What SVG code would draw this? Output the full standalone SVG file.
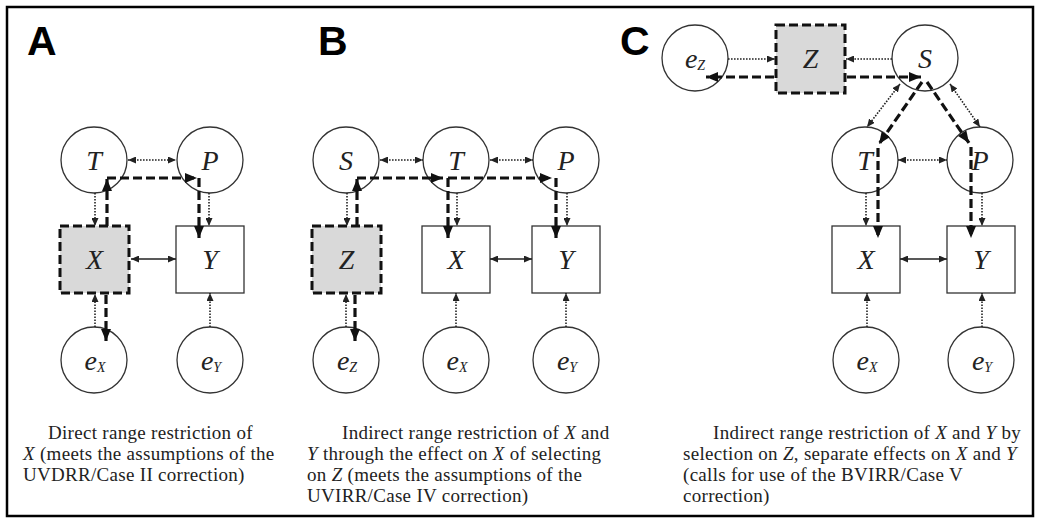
<svg xmlns="http://www.w3.org/2000/svg" width="1040" height="522" viewBox="0 0 1040 522">
  <defs>
    <style>
      .circ { fill: #fff; stroke: #333; stroke-width: 1.3; }
      .box { fill: #fff; stroke: #333; stroke-width: 1.3; }
      .sel { fill: #d9d9d9; stroke: #111; stroke-width: 3; stroke-dasharray: 9 4; }
      .dot { fill: none; stroke: #222; stroke-width: 1.6; stroke-dasharray: 1.6 1.4; }
      .sol { fill: none; stroke: #222; stroke-width: 1.5; }
      .thk { fill: none; stroke: #111; stroke-width: 3.2; stroke-dasharray: 9 4; }
      .lbl { font-family: "Liberation Serif", "Times New Roman", serif; font-style: italic; font-size: 28px; fill: #222; }
      .sub { font-size: 14px; }
      .cap { font-family: "Liberation Serif", "Times New Roman", serif; font-size: 19px; letter-spacing: 0.3px; fill: #222; }
      .it { font-style: italic; }
      .panel { font-family: "Liberation Sans", Arial, sans-serif; font-weight: bold; font-size: 41px; fill: #000; }
    </style>
    <marker id="ad" markerUnits="userSpaceOnUse" markerWidth="8" markerHeight="7" refX="8" refY="3.5" orient="auto-start-reverse">
      <path d="M0,0 L8,3.5 L0,7 z" fill="#222"/>
    </marker>
    <marker id="as" markerUnits="userSpaceOnUse" markerWidth="8" markerHeight="7" refX="8" refY="3.5" orient="auto-start-reverse">
      <path d="M0,0 L8,3.5 L0,7 z" fill="#222"/>
    </marker>
    <marker id="at" markerUnits="userSpaceOnUse" markerWidth="12" markerHeight="10" refX="12" refY="5" orient="auto">
      <path d="M0,0 L12,5 L0,10 z" fill="#111"/>
    </marker>
  </defs>

  <rect x="0" y="0" width="1040" height="522" fill="#fff"/>
  <rect x="7" y="7" width="1026" height="509" fill="none" stroke="#000" stroke-width="2.5"/>

  <!-- panel letters -->
  <text class="panel" x="27" y="55">A</text>
  <text class="panel" x="318" y="55">B</text>
  <text class="panel" x="620" y="55">C</text>

  <!-- ===== Panel A ===== -->
  <g id="a-T"><circle class="circ" cx="94" cy="160" r="33"/><text class="lbl" x="94" y="170" text-anchor="middle">T</text></g>
  <g id="a-P"><circle class="circ" cx="210" cy="160" r="33"/><text class="lbl" x="210" y="170" text-anchor="middle">P</text></g>
  <g id="a-X"><rect class="sel" x="60" y="226" width="69" height="67"/><text class="lbl" x="94.5" y="269" text-anchor="middle">X</text></g>
  <g id="a-Y"><rect class="box" x="176" y="226" width="68" height="67"/><text class="lbl" x="210" y="269" text-anchor="middle">Y</text></g>
  <g id="a-eX"><circle class="circ" cx="94" cy="360" r="33"/><text class="lbl" x="95" y="370" text-anchor="middle">e<tspan class="sub" dy="2">X</tspan></text></g>
  <g id="a-eY"><circle class="circ" cx="210" cy="360" r="33"/><text class="lbl" x="211" y="370" text-anchor="middle">e<tspan class="sub" dy="2">Y</tspan></text></g>

  <!-- ===== Panel B ===== -->
  <g id="b-S"><circle class="circ" cx="346" cy="160" r="33"/><text class="lbl" x="346" y="170" text-anchor="middle">S</text></g>
  <g id="b-T"><circle class="circ" cx="456" cy="160" r="33"/><text class="lbl" x="456" y="170" text-anchor="middle">T</text></g>
  <g id="b-P"><circle class="circ" cx="566" cy="160" r="33"/><text class="lbl" x="566" y="170" text-anchor="middle">P</text></g>
  <g id="b-Z"><rect class="sel" x="312" y="226" width="69" height="67"/><text class="lbl" x="346.5" y="269" text-anchor="middle">Z</text></g>
  <g id="b-X"><rect class="box" x="422" y="226" width="68" height="67"/><text class="lbl" x="456" y="269" text-anchor="middle">X</text></g>
  <g id="b-Y"><rect class="box" x="532" y="226" width="68" height="67"/><text class="lbl" x="566" y="269" text-anchor="middle">Y</text></g>
  <g id="b-eZ"><circle class="circ" cx="346" cy="360" r="33"/><text class="lbl" x="347" y="370" text-anchor="middle">e<tspan class="sub" dy="2">Z</tspan></text></g>
  <g id="b-eX"><circle class="circ" cx="456" cy="360" r="33"/><text class="lbl" x="457" y="370" text-anchor="middle">e<tspan class="sub" dy="2">X</tspan></text></g>
  <g id="b-eY"><circle class="circ" cx="566" cy="360" r="33"/><text class="lbl" x="567" y="370" text-anchor="middle">e<tspan class="sub" dy="2">Y</tspan></text></g>

  <!-- ===== Panel C ===== -->
  <g id="c-eZ"><circle class="circ" cx="695" cy="58" r="33"/><text class="lbl" x="695" y="68" text-anchor="middle">e<tspan class="sub" dy="2">Z</tspan></text></g>
  <g id="c-Z"><rect class="sel" x="776" y="25" width="69" height="68"/><text class="lbl" x="810.5" y="68" text-anchor="middle">Z</text></g>
  <g id="c-S"><circle class="circ" cx="925" cy="58" r="33"/><text class="lbl" x="925" y="68" text-anchor="middle">S</text></g>
  <g id="c-T"><circle class="circ" cx="865" cy="160" r="33"/><text class="lbl" x="865" y="170" text-anchor="middle">T</text></g>
  <g id="c-P"><circle class="circ" cx="980" cy="160" r="33"/><text class="lbl" x="980" y="170" text-anchor="middle">P</text></g>
  <g id="c-X"><rect class="box" x="832" y="226" width="68" height="67"/><text class="lbl" x="866" y="269" text-anchor="middle">X</text></g>
  <g id="c-Y"><rect class="box" x="947" y="226" width="68" height="67"/><text class="lbl" x="981" y="269" text-anchor="middle">Y</text></g>
  <g id="c-eX"><circle class="circ" cx="866" cy="360" r="33"/><text class="lbl" x="867" y="370" text-anchor="middle">e<tspan class="sub" dy="2">X</tspan></text></g>
  <g id="c-eY"><circle class="circ" cx="981" cy="360" r="33"/><text class="lbl" x="982" y="370" text-anchor="middle">e<tspan class="sub" dy="2">Y</tspan></text></g>

  <!-- connectors -->
  <g id="connectors">
    <!-- A: latent correlations and error paths (dotted) -->
    <line class="dot" x1="128" y1="160" x2="176" y2="160" marker-start="url(#ad)" marker-end="url(#ad)"/>
    <line class="dot" x1="95" y1="193" x2="95" y2="226" marker-end="url(#ad)"/>
    <line class="dot" x1="209" y1="193" x2="209" y2="226" marker-end="url(#ad)"/>
    <line class="dot" x1="95" y1="327" x2="95" y2="294" marker-end="url(#ad)"/>
    <line class="dot" x1="210" y1="327" x2="210" y2="293" marker-end="url(#ad)"/>
    <line class="sol" x1="131" y1="259" x2="176" y2="259" marker-start="url(#as)" marker-end="url(#as)"/>
    <!-- A: selection effects (thick dashed) -->
    <line class="thk" x1="107" y1="226" x2="107" y2="179" marker-end="url(#at)"/>
    <line class="thk" x1="107" y1="178" x2="197" y2="178" marker-end="url(#at)"/>
    <line class="thk" x1="199" y1="178" x2="199" y2="238" marker-end="url(#at)"/>
    <line class="thk" x1="106" y1="295" x2="106" y2="341" marker-end="url(#at)"/>

    <!-- B: dotted -->
    <line class="dot" x1="380" y1="160" x2="423" y2="160" marker-start="url(#ad)" marker-end="url(#ad)"/>
    <line class="dot" x1="490" y1="160" x2="533" y2="160" marker-start="url(#ad)" marker-end="url(#ad)"/>
    <line class="dot" x1="347" y1="193" x2="347" y2="226" marker-end="url(#ad)"/>
    <line class="dot" x1="457" y1="193" x2="457" y2="226" marker-end="url(#ad)"/>
    <line class="dot" x1="567" y1="193" x2="567" y2="226" marker-end="url(#ad)"/>
    <line class="dot" x1="346" y1="327" x2="346" y2="294" marker-end="url(#ad)"/>
    <line class="dot" x1="456" y1="327" x2="456" y2="293" marker-end="url(#ad)"/>
    <line class="dot" x1="566" y1="327" x2="566" y2="293" marker-end="url(#ad)"/>
    <line class="sol" x1="490" y1="259" x2="532" y2="259" marker-start="url(#as)" marker-end="url(#as)"/>
    <!-- B: thick dashed -->
    <line class="thk" x1="357" y1="226" x2="357" y2="179" marker-end="url(#at)"/>
    <line class="thk" x1="357" y1="178" x2="443" y2="178" marker-end="url(#at)"/>
    <line class="thk" x1="448" y1="178" x2="448" y2="238" marker-end="url(#at)"/>
    <line class="thk" x1="448" y1="178" x2="552" y2="178" marker-end="url(#at)"/>
    <line class="thk" x1="556" y1="178" x2="556" y2="238" marker-end="url(#at)"/>
    <line class="thk" x1="355" y1="295" x2="355" y2="341" marker-end="url(#at)"/>

    <!-- C: dotted -->
    <line class="dot" x1="728" y1="59" x2="775" y2="59" marker-end="url(#ad)"/>
    <line class="dot" x1="892" y1="59" x2="846" y2="59" marker-end="url(#ad)"/>
    <line class="dot" x1="900" y1="84" x2="867" y2="127" marker-start="url(#ad)" marker-end="url(#ad)"/>
    <line class="dot" x1="950" y1="84" x2="980" y2="127" marker-start="url(#ad)" marker-end="url(#ad)"/>
    <line class="dot" x1="898" y1="160" x2="947" y2="160" marker-start="url(#ad)" marker-end="url(#ad)"/>
    <line class="dot" x1="866" y1="193" x2="866" y2="226" marker-end="url(#ad)"/>
    <line class="dot" x1="982" y1="193" x2="982" y2="226" marker-end="url(#ad)"/>
    <line class="dot" x1="867" y1="327" x2="867" y2="293" marker-end="url(#ad)"/>
    <line class="dot" x1="982" y1="327" x2="982" y2="293" marker-end="url(#ad)"/>
    <line class="sol" x1="900" y1="259" x2="947" y2="259" marker-start="url(#as)" marker-end="url(#as)"/>
    <!-- C: thick dashed -->
    <line class="thk" x1="774" y1="77" x2="706" y2="77" marker-end="url(#at)"/>
    <line class="thk" x1="847" y1="77" x2="921" y2="77" marker-end="url(#at)"/>
    <line class="thk" x1="922" y1="82" x2="879" y2="144" marker-end="url(#at)"/>
    <line class="thk" x1="878" y1="148" x2="878" y2="238" marker-end="url(#at)"/>
    <line class="thk" x1="927" y1="82" x2="969" y2="143" marker-end="url(#at)"/>
    <line class="thk" x1="971" y1="147" x2="971" y2="238" marker-end="url(#at)"/>
  </g>

  <!-- captions: one paragraph each, first line indented -->
  <text id="caption-a" class="cap">
    <tspan x="48" y="439">Direct range restriction of</tspan>
    <tspan x="23" y="460"><tspan class="it">X</tspan> (meets the assumptions of the</tspan>
    <tspan x="23" y="481">UVDRR/Case II correction)</tspan>
  </text>
  <text id="caption-b" class="cap">
    <tspan x="342" y="439">Indirect range restriction of <tspan class="it">X</tspan> and</tspan>
    <tspan x="307" y="460"><tspan class="it">Y</tspan> through the effect on <tspan class="it">X</tspan> of selecting</tspan>
    <tspan x="307" y="481">on <tspan class="it">Z</tspan> (meets the assumptions of the</tspan>
    <tspan x="307" y="502">UVIRR/Case IV correction)</tspan>
  </text>
  <text id="caption-c" class="cap">
    <tspan x="713" y="439">Indirect range restriction of <tspan class="it">X</tspan> and <tspan class="it">Y</tspan> by</tspan>
    <tspan x="683" y="460">selection on <tspan class="it">Z</tspan>, separate effects on <tspan class="it">X</tspan> and <tspan class="it">Y</tspan></tspan>
    <tspan x="683" y="481">(calls for use of the BVIRR/Case V</tspan>
    <tspan x="683" y="502">correction)</tspan>
  </text>
</svg>
